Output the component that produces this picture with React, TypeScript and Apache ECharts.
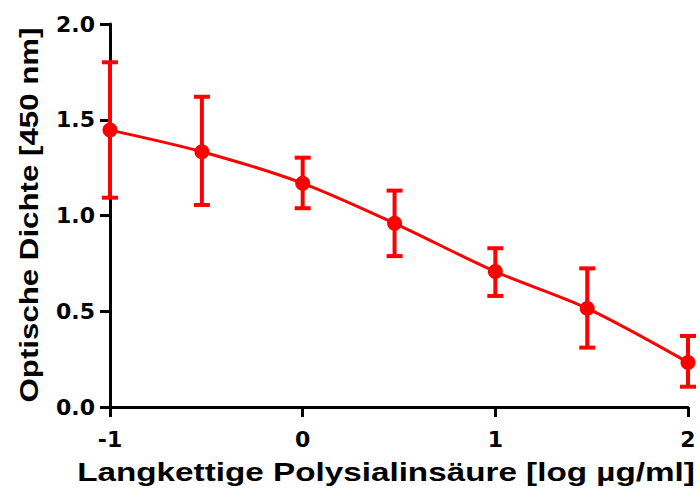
import React, { useEffect, useRef } from "react";
import * as echarts from "echarts";

const xValues = [-1, -0.523, 0, 0.477, 1, 1.477, 2];
const meanValues = [1.446, 1.333, 1.168, 0.959, 0.707, 0.515, 0.233];
const lowerValues = [1.093, 1.055, 1.038, 0.788, 0.58, 0.31, 0.106];
const upperValues = [1.8, 1.62, 1.302, 1.13, 0.829, 0.724, 0.371];
const xTitle = "Langkettige Polysialinsäure [log µg/ml]";
const yTitle = "Optische Dichte [450 nm]";

const RED = "#ff0000";
const FONT = "'Liberation Sans', Arial, sans-serif";
const TICKFONT = "'DejaVu Sans', sans-serif";

export default function App() {
  const ref = useRef<HTMLDivElement>(null);
  useEffect(() => {
    if (!ref.current) return;
    const chart = echarts.init(ref.current, null, { renderer: "svg" });
    const points = xValues.map((x, i) => [x, meanValues[i]]);
    const errs = xValues.map((x, i) => [x, lowerValues[i], upperValues[i]]);
    chart.setOption({
      animation: false,
      grid: { left: 110, right: 12, top: 24, bottom: 91 },
      xAxis: {
        type: "value",
        min: -1,
        max: 2,
        interval: 1,
        splitLine: { show: false },
        axisLine: { onZero: false, lineStyle: { color: "#000", width: 3 } },
        axisTick: { show: true, length: 10, inside: false, lineStyle: { color: "#000", width: 3 } },
        axisLabel: {
          color: "#000",
          fontFamily: TICKFONT,
          fontWeight: "bold",
          fontSize: 22,
          margin: 21,
          formatter: (v: number) => String(v),
        },
      },
      yAxis: {
        type: "value",
        min: 0,
        max: 2,
        interval: 0.5,
        splitLine: { show: false },
        axisLine: { show: true, onZero: false, lineStyle: { color: "#000", width: 3 } },
        axisTick: { show: true, length: 10, lineStyle: { color: "#000", width: 3 } },
        axisLabel: {
          color: "#000",
          fontFamily: TICKFONT,
          fontWeight: "bold",
          fontSize: 22,
          margin: 15,
          formatter: (v: number) => v.toFixed(1),
        },
      },
      graphic: [
        {
          type: "text",
          x: 386,
          y: 472,
          scaleX: 1.33,
          style: {
            text: xTitle,
            fill: "#000",
            font: `bold 25px ${FONT}`,
            textAlign: "center",
            textVerticalAlign: "middle",
          },
        },
        {
          type: "text",
          x: 29,
          y: 215,
          rotation: Math.PI / 2,
          scaleX: 1.25,
          style: {
            text: yTitle,
            fill: "#000",
            font: `bold 25px ${FONT}`,
            textAlign: "center",
            textVerticalAlign: "middle",
          },
        },
      ],
      series: [
        {
          type: "line",
          data: points,
          smooth: 0.3,
          symbol: "circle",
          symbolSize: 15,
          lineStyle: { color: RED, width: 3 },
          itemStyle: { color: RED },
          z: 3,
        },
        {
          type: "custom",
          data: errs,
          z: 2,
          renderItem: (params: any, api: any) => {
            const x = api.value(0);
            const lo = api.coord([x, api.value(1)]);
            const hi = api.coord([x, api.value(2)]);
            const hw = 8;
            const style = { stroke: RED, lineWidth: 4, fill: "none" };
            return {
              type: "group",
              children: [
                { type: "line", shape: { x1: lo[0], y1: lo[1], x2: hi[0], y2: hi[1] }, style },
                { type: "line", shape: { x1: lo[0] - hw, y1: lo[1], x2: lo[0] + hw, y2: lo[1] }, style },
                { type: "line", shape: { x1: hi[0] - hw, y1: hi[1], x2: hi[0] + hw, y2: hi[1] }, style },
              ],
            };
          },
        },
      ],
    });
    return () => chart.dispose();
  }, []);
  return <div ref={ref} style={{ width: 700, height: 498, position: "absolute", left: 0, top: 0 }} />;
}
